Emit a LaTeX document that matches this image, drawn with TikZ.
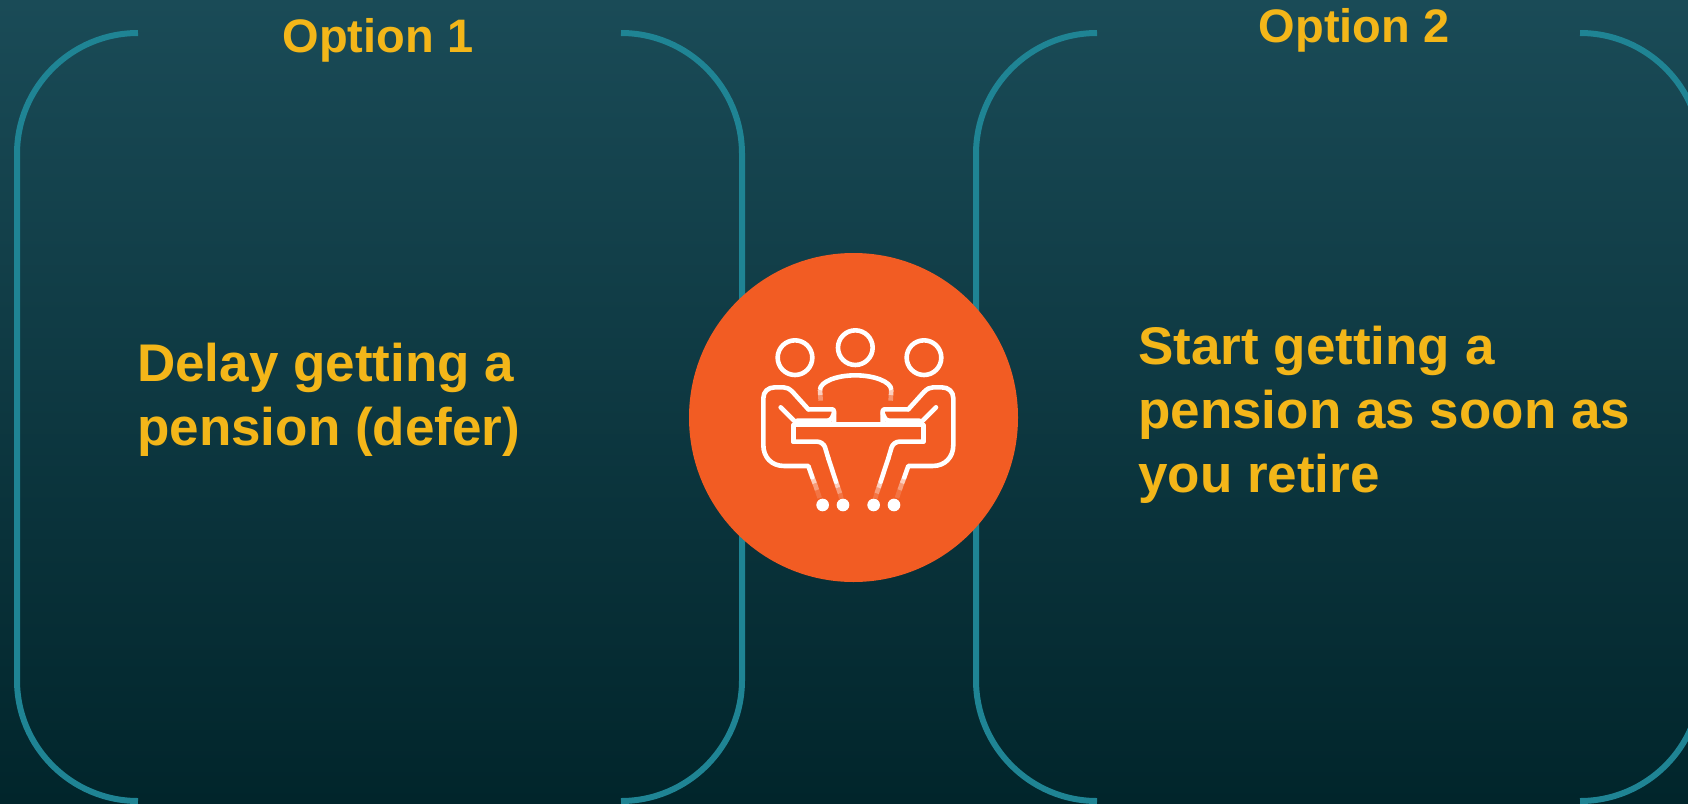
\documentclass[tikz,border=0pt]{standalone}
\usepackage{fontspec}
\setmainfont{Liberation Sans}
\definecolor{bgtop}{HTML}{1A4B57}
\definecolor{bgbot}{HTML}{01252B}
\definecolor{tealline}{HTML}{1F8494}
\definecolor{orangedisc}{HTML}{F25C23}
\definecolor{goldtext}{HTML}{F3B619}
\tikzset{
  bracket/.style={draw=tealline,line width=6pt,line cap=butt},
  headtext/.style={text=goldtext,font=\fontsize{47}{56}\selectfont\bfseries,anchor=base,inner sep=0pt},
  bodytext/.style={text=goldtext,font=\fontsize{53}{64}\selectfont\bfseries,anchor=base west,inner sep=0pt},
  iconline/.style={draw=white,line width=4.6pt,line cap=round,line join=round},
  fadeline/.style={iconline,line cap=butt,opacity=#1},
}
\begin{document}
\begin{tikzpicture}[x=1pt,y=-1pt]
\useasboundingbox (0,0) rectangle (1688,803);
\clip (0,0) rectangle (1688,803);
\shade[top color=bgtop,bottom color=bgbot] (0,0) rectangle (1688,803);
% brackets
\def\brk#1#2{%
 \draw[bracket] (#1+121,33) .. controls (#1+54.2,33) and (#1,87.2) .. (#1,154) -- (#1,680) .. controls (#1,746.8) and (#1+54.2,801) .. (#1+121,801);
 \draw[bracket] (#2-121,33) .. controls (#2-54.2,33) and (#2,87.2) .. (#2,154) -- (#2,680) .. controls (#2,746.8) and (#2-54.2,801) .. (#2-121,801);
}
\brk{17}{742}
\brk{976}{1701}
% disc
\fill[orangedisc] (853.5,417.5) circle[radius=164.5];
% icon
\begin{scope}[shift={(680,250)},x=0.3333pt,y=-0.3333pt]
 \draw[iconline] (345,323) circle[radius=52];
 \draw[iconline] (526,293) circle[radius=52];
 \draw[iconline] (732,323) circle[radius=52];
 \draw[iconline,line cap=butt] (420,420) .. controls (420,395) and (470,376) .. (526,376) .. controls (582,376) and (634,395) .. (634,420);
 \draw[fadeline=.7] (420,420) -- (421,435);
 \draw[fadeline=.35] (421,435) -- (422,452);
 \draw[fadeline=.7] (634,420) -- (633,435);
 \draw[fadeline=.35] (633,435) -- (632,452);
 \draw[iconline] (345,524) -- (725,524);
 \foreach \mx/\dir in {0/1,1070/-1}{
  \begin{scope}[shift={(\mx,0)},x=\dir*0.3333pt]
   \draw[iconline] (302,472) -- (352,522);
   \draw[iconline,rounded corners=2pt] (462,522) -- (462,478) -- (385,478);
   \draw[iconline,rounded corners=3pt] (462,490) -- (452,512) -- (352,512);
   \draw[iconline] (340,525) -- (340,575);
   \draw[iconline,rounded corners=6pt] (340,575) -- (430,575) -- (445,625);
   \draw[iconline] (445,625) -- (468,695);
   \draw[fadeline=.7] (468,695) -- (474,713);
   \draw[fadeline=.4] (474,713) -- (480,730);
   \draw[fadeline=.15] (480,730) -- (484,745);
   \draw[iconline] (385,478) -- (338,426) .. controls (328,416) and (320,412) .. (310,412) -- (285,412) .. controls (264,412) and (250,425) .. (250,445) -- (250,585) .. controls (250,622) and (275,648) .. (312,648) -- (385,648) -- (397,682);
   \draw[fadeline=.7] (397,682) -- (404,700);
   \draw[fadeline=.4] (404,700) -- (411,720);
   \draw[fadeline=.15] (411,720) -- (419,744);
   \fill[white] (428,765) circle[radius=19] (489,765) circle[radius=19];
  \end{scope}
 }
\end{scope}
% texts
\node[headtext] (opt1) at (378,52) {Option 1};
\node[headtext] (opt2) at (1354,42) {Option 2};
\node[bodytext] (d1) at (137,381) {Delay getting a};
\node[bodytext] (d2) at (137,445) {pension (defer)};
\node[bodytext] (s1) at (1138,364) {Start getting a};
\node[bodytext] (s2) at (1138,428) {pension as soon as};
\node[bodytext] (s3) at (1138,492) {you retire};
\end{tikzpicture}
\end{document}
